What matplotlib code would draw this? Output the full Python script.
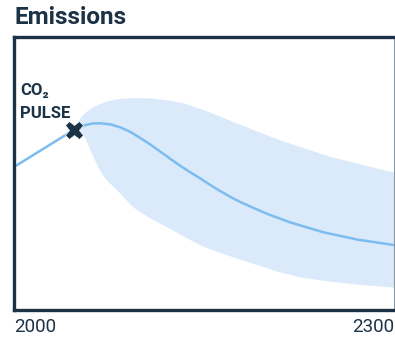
import matplotlib
matplotlib.use("Agg")
import matplotlib.pyplot as plt

plt.rcParams["font.family"] = ["Roboto", "DejaVu Sans"]

# central emissions path after the pulse (arbitrary units)
years = [2000, 2047, 2055, 2062, 2068, 2076, 2084, 2092, 2099, 2107, 2115, 2123,
         2131, 2139, 2147, 2155, 2163, 2171, 2178, 2190, 2200, 2218, 2244, 2271, 2300]
emis = [52.4, 65.9, 67.6, 68.3, 68.4, 68.0, 66.9, 65.2, 63.2, 60.8, 58.2, 55.5,
        52.9, 50.5, 48.2, 45.8, 43.5, 41.4, 39.7, 37.2, 35.2, 32.1, 28.5, 25.8, 23.8]

# uncertainty range
band_years = [2047, 2050, 2053, 2056, 2060, 2064, 2068, 2073, 2081, 2094, 2107, 2121,
              2134, 2147, 2160, 2173, 2185, 2196, 2210, 2225, 2248, 2275, 2300]
upper = [65.9, 69.0, 71.0, 72.4, 73.8, 74.8, 75.7, 76.5, 77.4, 77.8, 77.7, 77.0,
         75.8, 73.8, 71.5, 69.0, 66.8, 64.8, 62.3, 60.0, 56.5, 53.3, 50.5]
lower = [65.9, 65.6, 64.9, 63.2, 58.6, 54.5, 50.8, 47.6, 44.0, 37.7, 33.8, 30.4,
         27.0, 23.8, 21.5, 19.4, 17.6, 16.0, 13.9, 12.2, 10.6, 9.3, 8.4]

pulse_year, pulse_val = 2047, 65.9
xticks = [2000, 2300]

navy = "#1c3246"
W, H = 395, 338
fig = plt.figure(figsize=(W / 100, H / 100), dpi=100)
ax = fig.add_axes([14 / W, 1 - 310 / H, 380 / W, 273 / H])

ax.fill_between(band_years, lower, upper, color="#dbeafa", lw=0)
ax.plot(years, emis, color="#7dbcef", lw=1.8, solid_capstyle="round",
        solid_joinstyle="round")
ax.plot([pulse_year], [pulse_val], marker="X", ms=13, color=navy, mec="white", mew=0.5)

ax.text(2005, 80.5, "CO₂", fontsize=12, fontweight="bold", color=navy, va="center")
ax.text(2005, 71.8, "PULSE", fontsize=12, fontweight="bold", color=navy, va="center")

ax.set_xlim(2000, 2300)
ax.set_ylim(0, 100)
ax.set_yticks([])
ax.set_xticks(xticks)
ax.set_xticklabels([str(t) for t in xticks], fontsize=13.5, color=navy)
labels = ax.get_xticklabels()
labels[0].set_ha("left")
labels[1].set_ha("right")
ax.tick_params(axis="x", length=0, pad=6)

for side in ("left", "top", "bottom"):
    ax.spines[side].set_color(navy)
    ax.spines[side].set_linewidth(2.4)
ax.spines["right"].set_color("#8a96a0")
ax.spines["right"].set_linewidth(0.8)

fig.text(14 / W, 1 - 17 / H, "Emissions", fontsize=17.5, fontweight="bold",
         color=navy, va="center", ha="left")

fig.savefig("out.png", dpi=100)
